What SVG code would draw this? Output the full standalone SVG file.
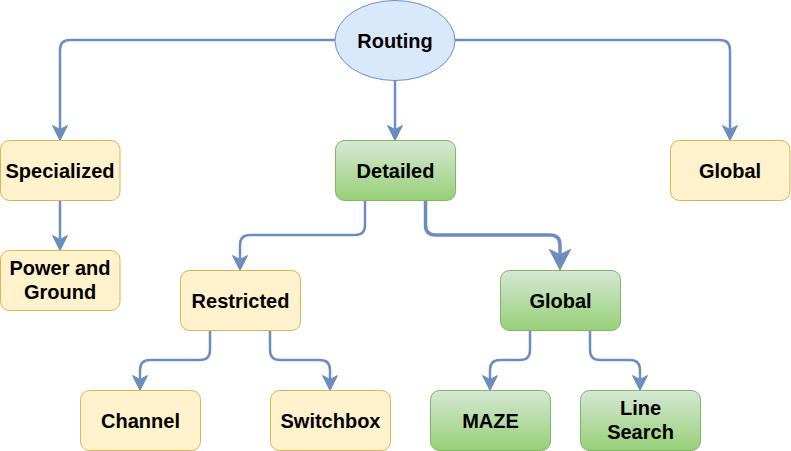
<svg xmlns="http://www.w3.org/2000/svg" width="791" height="451" viewBox="0 0 791 451">
<defs>
<linearGradient id="gg" x1="0" y1="0" x2="0" y2="1">
<stop offset="0" stop-color="#d5e8d4"/>
<stop offset="1" stop-color="#97d077"/>
</linearGradient>
<marker id="arr" markerUnits="userSpaceOnUse" markerWidth="16" markerHeight="16" viewBox="0 0 16 16" refX="4" refY="8" orient="auto">
<path d="M0.5,0.5 L15.5,8 L0.5,15.5 L4.5,8 Z" fill="#6c8ebf" stroke="#6c8ebf" stroke-width="1"/>
</marker>
<marker id="arrB" markerUnits="userSpaceOnUse" markerWidth="22" markerHeight="22" viewBox="0 0 22 22" refX="5" refY="11" orient="auto">
<path d="M0.5,0.5 L21,11 L0.5,21.5 L5.5,11 Z" fill="#6c8ebf" stroke="#6c8ebf" stroke-width="1"/>
</marker>
<style>
.e{fill:none;stroke:#6c8ebf;stroke-width:2.5;marker-end:url(#arr)}
.eb{fill:none;stroke:#6c8ebf;stroke-width:3.5;marker-end:url(#arrB)}
.y{fill:#fff2cc;stroke:#d6b656;stroke-width:1}
.g{fill:url(#gg);stroke:#82b366;stroke-width:1}
.b{fill:#dae8fc;stroke:#6c8ebf;stroke-width:1}
text{font-family:"Liberation Sans",Arial,Helvetica,sans-serif;font-weight:bold;font-size:20px;fill:#000;text-anchor:middle}
</style>
</defs>
<g id="connectors">
<path class="e" d="M335,40 H70 Q60,40 60,50 V129"/>
<path class="e" d="M455,40 H720 Q730,40 730,50 V129"/>
<path class="e" d="M395,80 V129"/>
<path class="e" d="M60,200 V239"/>
<path class="e" d="M365,200 V225 Q365,235 355,235 H250 Q240,235 240,245 V259"/>
<path class="eb" d="M425.5,200 V225 Q425.5,235 435.5,235 H550 Q560,235 560,245 V254"/>
<path class="e" d="M210,330 V350 Q210,360 200,360 H150 Q140,360 140,370 V379"/>
<path class="e" d="M270,330 V350 Q270,360 280,360 H320 Q330,360 330,370 V379"/>
<path class="e" d="M530,330 V350 Q530,360 520,360 H500 Q490,360 490,370 V379"/>
<path class="e" d="M590,330 V350 Q590,360 600,360 H630 Q640,360 640,370 V379"/>
</g>
<g id="routing">
<ellipse class="b" cx="395" cy="40.5" rx="60" ry="40"/>
<text x="395" y="48">Routing</text>
</g>
<g id="specialized">
<rect class="y" x="0.5" y="140.5" width="119.5" height="60" rx="9"/>
<text x="60" y="177.5">Specialized</text>
</g>
<g id="detailed">
<rect class="g" x="335.5" y="140.5" width="120" height="60" rx="9"/>
<text x="395.5" y="177.5">Detailed</text>
</g>
<g id="global-top">
<rect class="y" x="670.5" y="140.5" width="119.5" height="60" rx="9"/>
<text x="730" y="177.5">Global</text>
</g>
<g id="power-ground">
<rect class="y" x="0.5" y="250.5" width="119.5" height="60" rx="9"/>
<text x="60" y="275">Power and</text>
<text x="60" y="299">Ground</text>
</g>
<g id="restricted">
<rect class="y" x="180.5" y="270.5" width="120" height="60" rx="9"/>
<text x="240.5" y="307.5">Restricted</text>
</g>
<g id="global-detailed">
<rect class="g" x="500.5" y="270.5" width="120" height="60" rx="9"/>
<text x="560.5" y="307.5">Global</text>
</g>
<g id="channel">
<rect class="y" x="80.5" y="390.5" width="120" height="60" rx="9"/>
<text x="140.5" y="427.5">Channel</text>
</g>
<g id="switchbox">
<rect class="y" x="270.5" y="390.5" width="120" height="60" rx="9"/>
<text x="330.5" y="427.5">Switchbox</text>
</g>
<g id="maze">
<rect class="g" x="430.5" y="390.5" width="120" height="60" rx="9"/>
<text x="490.5" y="427.5">MAZE</text>
</g>
<g id="line-search">
<rect class="g" x="580.5" y="390.5" width="120" height="60" rx="9"/>
<text x="640.5" y="415">Line</text>
<text x="640.5" y="439">Search</text>
</g>
</svg>
